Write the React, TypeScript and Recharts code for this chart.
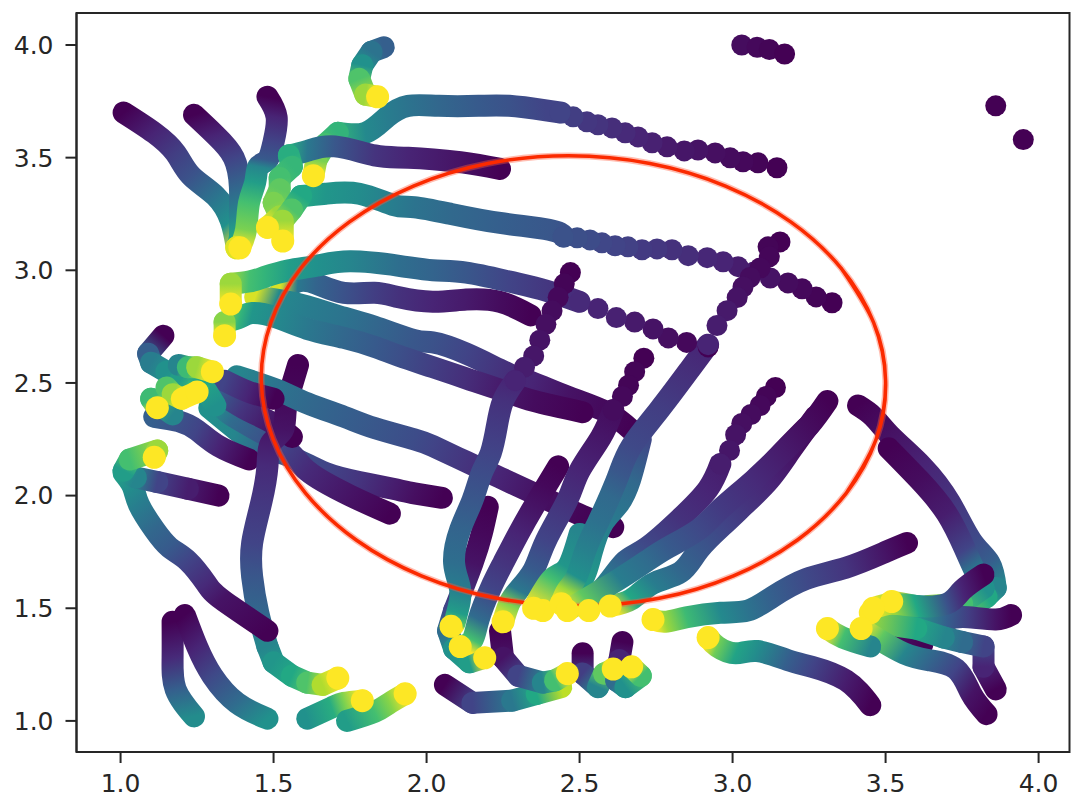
import React from 'react';
import { ComposedChart, Line, XAxis, YAxis, ReferenceArea } from 'recharts';

type Pt = [number, number, number]; // x, y, colour value 0..1

const xTicks = [1, 1.5, 2, 2.5, 3, 3.5, 4];
const yTicks = [1, 1.5, 2, 2.5, 3, 3.5, 4];
const xDomain: [number, number] = [0.856, 4.101];
const yDomain: [number, number] = [0.862, 4.142];

const viridisStops = ['#440154', '#482475', '#414487', '#355f8d', '#2a788e', '#21918c', '#22a884', '#44bf70', '#7ad151', '#bddf26', '#fde725'];

const trackA: Pt[] = [[1.01,3.7,0],[1.11,3.61,.1],[1.18,3.52,.18],[1.23,3.42,.25],[1.31,3.33,.38],[1.36,3.22,.5],[1.38,3.1,1]];
const trackB: Pt[] = [[1.24,3.69,0],[1.31,3.6,.1],[1.37,3.5,.2],[1.39,3.37,.33],[1.39,3.25,.45],[1.39,3.15,.6],[1.38,3.1,.95]];
const trackC: Pt[] = [[1.48,3.77,0],[1.51,3.68,.1],[1.5,3.57,.2],[1.48,3.49,.28],[1.45,3.46,.45],[1.44,3.39,.55],[1.42,3.3,.7],[1.41,3.18,.8],[1.39,3.1,1]];
const trackD: Pt[] = [[2.24,3.45,0],[2.11,3.48,.05],[1.94,3.5,.1],[1.83,3.51,.15],[1.7,3.55,.27],[1.61,3.53,.4],[1.55,3.51,.62]];
const tailD: Pt[] = [[1.55,3.51,.62],[1.56,3.46,.66],[1.52,3.41,.7],[1.52,3.36,.75],[1.5,3.3,.8],[1.52,3.24,.85],[1.48,3.19,1]];
const trackE: Pt[] = [[2.44,3.7,.2],[2.39,3.71,.2],[2.27,3.73,.25],[2.17,3.73,.28],[2.04,3.73,.33],[1.94,3.73,.38],[1.87,3.68,.42],[1.8,3.61,.47],[1.71,3.61,.65]];
const tailE: Pt[] = [[1.71,3.61,.65],[1.67,3.56,.7],[1.64,3.49,.8],[1.63,3.42,1]];
const trackF: Pt[] = [[2.45,3.15,.25],[2.4,3.18,.27],[2.24,3.21,.3],[2.08,3.25,.34],[1.96,3.28,.38],[1.89,3.29,.42],[1.78,3.34,.48],[1.67,3.34,.52],[1.59,3.33,.6]];
const tailF: Pt[] = [[1.59,3.33,.6],[1.56,3.27,.72],[1.53,3.22,.85],[1.53,3.13,1]];
const trackG: Pt[] = [[2.5,2.86,.12],[2.39,2.91,.16],[2.27,2.95,.2],[2.13,2.99,.27],[2.02,3,.32],[1.91,3.02,.36],[1.75,3.04,.45],[1.64,3.02,.5],[1.55,3,.55],[1.47,2.97,.65],[1.42,2.95,.7],[1.36,2.94,.85]];
const tailG: Pt[] = [[1.36,2.94,.85],[1.36,2.85,1]];
const trackH: Pt[] = [[2.34,2.8,0],[2.24,2.86,.03],[2.13,2.87,.07],[2.02,2.86,.1],[1.91,2.88,.14],[1.83,2.9,.18],[1.73,2.9,.25],[1.64,2.94,.32],[1.58,2.95,.4],[1.52,2.9,.94]];
const trackI: Pt[] = [[2.67,2.29,0],[2.59,2.37,.02],[2.46,2.44,.05],[2.35,2.5,.1],[2.27,2.54,.13],[2.13,2.63,.2],[2.02,2.68,.25],[1.96,2.69,.27],[1.83,2.75,.33],[1.73,2.79,.38],[1.61,2.84,.42],[1.51,2.87,.47],[1.44,2.88,.94]];
const trackI2: Pt[] = [[2.51,2.37,0],[2.35,2.42,.03],[2.24,2.47,.07],[2.13,2.52,.13],[2.02,2.57,.18],[1.91,2.62,.24],[1.83,2.66,.28],[1.73,2.7,.33],[1.61,2.74,.4],[1.51,2.79,.47],[1.43,2.81,.52],[1.39,2.79,.65],[1.34,2.77,.82]];
const tailI2: Pt[] = [[1.34,2.77,.82],[1.34,2.71,1]];
const trackJ: Pt[] = [[2.61,1.86,0],[2.51,1.91,.01],[2.43,1.96,.03],[2.35,2.01,.05],[2.24,2.08,.1],[2.13,2.15,.15],[2.02,2.22,.2],[1.96,2.25,.23],[1.83,2.3,.27],[1.73,2.35,.3],[1.61,2.41,.34],[1.51,2.47,.38],[1.38,2.53,.45]];
const trackK: Pt[] = [[2.05,1.99,0],[1.96,2.01,.04],[1.89,2.03,.08],[1.78,2.06,.15],[1.67,2.1,.2],[1.56,2.17,.25],[1.46,2.22,.33],[1.38,2.29,.45],[1.29,2.39,.5]];
const trackL: Pt[] = [[1.88,1.92,0],[1.75,2,.05],[1.61,2.11,.12],[1.53,2.22,.2],[1.37,2.35,.35],[1.32,2.42,.5]];
const trackM: Pt[] = [[1.56,2.26,0],[1.5,2.32,.05],[1.4,2.39,.15],[1.32,2.46,.3]];
const trackN: Pt[] = [[1.5,2.43,0],[1.42,2.46,.1],[1.34,2.51,.2]];
const trackO: Pt[] = [[1.42,2.16,0],[1.32,2.22,.1],[1.25,2.29,.2],[1.19,2.33,.25],[1.11,2.35,.3]];
const trackP: Pt[] = [[1.14,2.71,0],[1.09,2.63,.3],[1.1,2.59,.42],[1.15,2.55,.5],[1.19,2.5,.55],[1.24,2.46,.7]];
const blobA: Pt[] = [[1.17,2.36,.45],[1.1,2.43,.68],[1.12,2.39,1]];
const blobB: Pt[] = [[1.19,2.58,.45],[1.22,2.57,.68],[1.25,2.57,.85],[1.3,2.55,1]];
const blobE: Pt[] = [[1.31,2.4,.5],[1.26,2.51,.6],[1.25,2.47,.7]];
const blobC: Pt[] = [[1.15,2.48,.72],[1.17,2.45,.85],[1.2,2.43,1],[1.25,2.46,1]];
const trackS: Pt[] = [[1.58,2.58,0],[1.56,2.49,.01],[1.54,2.38,.03],[1.53,2.29,.05],[1.49,2.23,.08],[1.48,2.13,.12],[1.46,1.97,.16],[1.43,1.79,.2],[1.43,1.64,.27],[1.45,1.48,.33],[1.48,1.33,.45]];
const tailS: Pt[] = [[1.48,1.33,.45],[1.5,1.26,.52],[1.56,1.2,.6],[1.61,1.17,.72],[1.66,1.16,.88],[1.71,1.19,1]];
const trackR: Pt[] = [[1.01,2.1,.55],[1.04,2.04,.48],[1.06,1.96,.42],[1.11,1.85,.33],[1.16,1.77,.28],[1.22,1.71,.2],[1.28,1.61,.12],[1.33,1.54,.05],[1.48,1.4,0]];
const trackQ: Pt[] = [[1.32,2,0],[1.22,2.03,.08],[1.12,2.06,.2],[1.05,2.08,.45],[1.01,2.11,.55],[1.03,2.16,.7],[1.12,2.2,.85],[1.11,2.17,1]];
const trackT: Pt[] = [[1.17,1.44,0],[1.17,1.28,.12],[1.18,1.14,.3],[1.24,1.02,.48]];
const trackU: Pt[] = [[1.21,1.47,0],[1.25,1.33,.1],[1.3,1.2,.22],[1.38,1.08,.35],[1.48,1.01,.5]];
const trackV: Pt[] = [[1.61,1.01,.5],[1.69,1.06,.62],[1.73,1.08,.8],[1.79,1.09,1]];
const trackW: Pt[] = [[1.74,1,.55],[1.83,1.04,.7],[1.88,1.08,.82],[1.93,1.12,1]];
const trackX: Pt[] = [[1.86,3.99,.3],[1.82,3.97,.38],[1.79,3.91,.5],[1.78,3.85,.72],[1.8,3.78,.85],[1.84,3.77,1]];
const trackY: Pt[] = [[2.29,2.51,.1],[2.25,2.42,.14],[2.23,2.31,.17],[2.21,2.19,.2],[2.18,2.1,.23],[2.15,1.98,.27],[2.11,1.85,.32],[2.09,1.7,.36],[2.11,1.58,.42],[2.1,1.48,.55],[2.09,1.43,.75],[2.08,1.42,1]];
const trackZ: Pt[] = [[2.2,1.95,0],[2.18,1.83,.02],[2.15,1.7,.05],[2.09,1.49,.2]];
const tailZ: Pt[] = [[2.09,1.49,.2],[2.07,1.4,.35],[2.09,1.32,.5],[2.14,1.26,.55],[2.19,1.28,1]];
const trackAA: Pt[] = [[2.43,2.13,0],[2.39,2.04,.02],[2.35,1.95,.05],[2.3,1.83,.1],[2.25,1.7,.15],[2.21,1.59,.2],[2.17,1.45,.35],[2.15,1.36,.7],[2.11,1.33,1]];
const trackAC: Pt[] = [[2.24,1.4,0],[2.25,1.28,.05],[2.3,1.2,.2],[2.38,1.17,.45],[2.42,1.18,.7],[2.46,1.21,1]];
const trackAB: Pt[] = [[2.61,2.38,.03],[2.57,2.26,.06],[2.5,2.11,.1],[2.46,1.98,.14],[2.39,1.8,.2],[2.35,1.67,.28],[2.3,1.58,.4],[2.27,1.52,.8],[2.25,1.44,1]];
const trackAD: Pt[] = [[2.06,1.16,0],[2.15,1.08,.2],[2.28,1.09,.4],[2.36,1.12,.6],[2.44,1.15,.9]];
const trackAE: Pt[] = [[2.51,1.3,0],[2.51,1.21,.18],[2.56,1.15,.45],[2.58,1.21,.75],[2.61,1.23,1]];
const trackAF: Pt[] = [[2.64,1.35,0],[2.63,1.27,.1],[2.62,1.18,.35],[2.65,1.15,.5],[2.7,1.2,.7],[2.67,1.24,1]];
const trackAG: Pt[] = [[2.92,2.67,.1],[2.86,2.56,.13],[2.76,2.38,.18],[2.67,2.22,.22],[2.63,2.1,.27],[2.6,2,.34],[2.56,1.88,.37],[2.52,1.76,.43],[2.49,1.64,.5],[2.46,1.58,.85],[2.44,1.52,1]];
const trackAH: Pt[] = [[2.7,2.25,.22],[2.665,2.07,.34],[2.626,1.96,.38],[2.577,1.88,.42],[2.54,1.75,.48],[2.5,1.61,.55],[2.43,1.58,.8],[2.38,1.49,1]];
const trackAH2: Pt[] = [[2.5,1.83,.45],[2.46,1.68,.52],[2.41,1.63,.7],[2.35,1.5,1]];
const trackAJ: Pt[] = [[2.96,2.14,.08],[2.92,2.03,.1],[2.83,1.9,.14],[2.72,1.77,.22],[2.65,1.71,.3],[2.59,1.61,.42],[2.53,1.52,.8],[2.53,1.49,1]];
const trackAK: Pt[] = [[3.31,2.42,0],[3.25,2.31,.03],[3.17,2.2,.07],[3.07,2.07,.12],[2.96,1.94,.17],[2.89,1.85,.22],[2.79,1.77,.28],[2.72,1.71,.35],[2.63,1.63,.42],[2.52,1.54,.75],[2.46,1.49,1]];
const trackAL: Pt[] = [[3.27,2.35,0],[3.19,2.2,.05],[3.12,2.07,.1],[3.04,1.96,.15],[2.97,1.87,.2],[2.89,1.76,.27],[2.83,1.66,.33],[2.74,1.61,.42],[2.67,1.54,.6],[2.6,1.51,1]];
const trackAL2: Pt[] = [[3.24,2.3,0],[3.14,2.16,.07],[3.06,2.03,.1],[3.01,1.94,.12],[2.93,1.85,.2]];
const trackAM: Pt[] = [[3.57,1.79,0],[3.5,1.75,.05],[3.37,1.68,.15],[3.24,1.63,.22],[3.13,1.55,.3],[3.05,1.49,.38],[2.96,1.48,.47],[2.85,1.46,.68],[2.78,1.44,.85],[2.74,1.45,1]];
const trackAN: Pt[] = [[3.45,1.07,0],[3.37,1.18,.08],[3.26,1.24,.2],[3.18,1.27,.3],[3.08,1.31,.48],[3.01,1.3,.58],[2.95,1.33,.78],[2.92,1.37,1]];
const trackAO: Pt[] = [[3.41,2.4,0],[3.46,2.35,.02],[3.52,2.26,.05],[3.62,2.13,.1],[3.71,1.97,.15],[3.78,1.8,.22],[3.84,1.7,.3],[3.86,1.59,.45]];
const tailAO: Pt[] = [[3.86,1.59,.45],[3.83,1.55,.6],[3.75,1.48,.8],[3.69,1.44,.9]];
const trackAP: Pt[] = [[3.51,2.21,0],[3.61,2.07,.03],[3.7,1.92,.08],[3.76,1.76,.2],[3.79,1.67,.4],[3.82,1.59,.5]];
const tailAP: Pt[] = [[3.82,1.59,.5],[3.75,1.52,.7],[3.64,1.51,.85]];
const trackAQ: Pt[] = [[3.6,1.51,.6],[3.52,1.53,1]];
const trackAR: Pt[] = [[3.91,1.47,0],[3.86,1.45,.05],[3.77,1.46,.18],[3.7,1.45,.3],[3.6,1.42,.55],[3.48,1.46,.85],[3.45,1.48,1]];
const trackAS: Pt[] = [[3.86,1.14,0],[3.82,1.24,.1],[3.82,1.33,.2],[3.75,1.35,.35],[3.69,1.37,.45],[3.6,1.41,.6],[3.45,1.44,.85]];
const trackAU: Pt[] = [[3.62,1.34,0],[3.56,1.35,.03]];
const trackAT: Pt[] = [[3.83,1.03,0],[3.78,1.12,.05],[3.73,1.23,.2],[3.64,1.27,.33],[3.56,1.3,.45],[3.48,1.36,.75],[3.42,1.41,1]];
const trackAU2: Pt[] = [[3.45,1.33,.45],[3.36,1.37,.7],[3.31,1.41,1]];
const trackAV: Pt[] = [[3.82,1.65,0],[3.75,1.58,.1],[3.7,1.52,.25],[3.6,1.51,.6],[3.52,1.52,.85],[3.46,1.5,1]];

// tails where the single markers can still be told apart
const beadsE: Pt[] = [[3.145,3.455,0],[3.083,3.477,.01],[3.034,3.482,.02],[2.992,3.499,.03],[2.943,3.521,.04],[2.887,3.534,.05],[2.842,3.53,.06],[2.786,3.548,.07],[2.737,3.566,.09],[2.691,3.592,.1],[2.649,3.61,.12],[2.606,3.632,.13],[2.56,3.646,.15],[2.524,3.659,.16],[2.479,3.681,.18],[2.436,3.699,.2]];
const beadsF: Pt[] = [[3.325,2.856,0],[3.273,2.882,.01],[3.227,2.918,.02],[3.181,2.944,.03],[3.123,2.966,.05],[3.07,2.993,.07],[3.018,3.016,.08],[2.969,3.038,.1],[2.917,3.056,.11],[2.855,3.065,.13],[2.802,3.091,.14],[2.753,3.095,.16],[2.704,3.091,.17],[2.658,3.104,.19],[2.616,3.109,.2],[2.573,3.122,.21],[2.534,3.135,.23],[2.492,3.144,.24],[2.446,3.148,.25]];
const beadsG: Pt[] = [[2.92,2.66,0],[2.85,2.68,.02],[2.79,2.7,.04],[2.74,2.74,.05],[2.68,2.77,.07],[2.62,2.79,.09],[2.56,2.83,.1],[2.5,2.86,.12]];
const beadsY: Pt[] = [[2.47,2.99,0],[2.45,2.94,.01],[2.43,2.88,.02],[2.41,2.82,.03],[2.39,2.76,.04],[2.37,2.69,.05],[2.35,2.62,.06],[2.32,2.57,.08],[2.29,2.51,.1]];
const beadsAB: Pt[] = [[2.71,2.61,0],[2.68,2.55,.01],[2.66,2.49,.01],[2.64,2.44,.02],[2.61,2.38,.03]];
const beadsAG: Pt[] = [[3.155,3.126,0],[3.116,3.104,.01],[3.12,3.06,.015],[3.09,3.01,.02],[3.057,2.968,.03],[3.034,2.926,.04],[3.015,2.879,.05],[2.982,2.821,.07],[2.949,2.755,.08],[2.92,2.67,.1]];
const beadsAJ: Pt[] = [[3.14,2.48,0],[3.11,2.44,.01],[3.09,2.4,.02],[3.06,2.36,.03],[3.03,2.32,.04],[3.01,2.27,.05],[2.99,2.2,.06],[2.96,2.14,.08]];
const beadsTop: Pt[] = [[3.03,4,.03],[3.08,3.99,.02],[3.12,3.98,.01],[3.17,3.96,0]];
const beadsLone: Pt[] = [[3.86,3.73,0],[3.95,3.58,0]];

const ringX = [3.371,3.469,3.5,3.461,3.355,3.19,2.977,2.73,2.464,2.2,1.957,1.748,1.589,1.491,1.46,1.499,1.605,1.77,1.983,2.23,2.496,2.76,3.003,3.212,3.371,3.469,3.5,3.461,3.355];
const ringY = [2.01,2.25,2.51,2.768,3.009,3.215,3.374,3.474,3.508,3.474,3.374,3.215,3.009,2.768,2.509,2.25,2.01,1.803,1.644,1.544,1.51,1.544,1.644,1.803,2.01,2.25,2.51,2.768,3.009];

const strokes: Pt[][] = [
  trackX, trackA, trackB, trackC, trackE, tailE, trackD, tailD, trackF, tailF, trackH, trackI, trackG, tailG, trackI2, tailI2,
  trackK, trackL, trackM, trackO, trackS, tailS, trackJ, trackN, trackP, blobA, blobE, blobB, blobC,
  trackR, trackQ, trackT, trackU, trackV, trackW,
  trackAD, trackAC, trackAE, trackAF, trackZ, tailZ, trackY, trackAA, trackAB,
  trackAH, trackAH2, trackAG, trackAJ, trackAL2, trackAL, trackAK, trackAM, trackAN,
  trackAO, tailAO, trackAP, tailAP, trackAU, trackAQ, trackAR, trackAS, trackAT, trackAU2, trackAV,
];
// these turn back on themselves, so they are coloured piece by piece
const bent = new Set<Pt[]>([tailD, tailE, tailF, tailG, tailI2, tailS, tailZ, tailAO, tailAP, trackP, trackQ, trackX, trackAC, trackAD, trackAE, trackAF, trackAS, blobA, blobB, blobC, blobE]);
const beads: Pt[][] = [beadsE, beadsF, beadsG, beadsY, beadsAB, beadsAG, beadsAJ, beadsTop, beadsLone];

const WIDTH = 1071;
const HEIGHT = 801;
const LEFT = 76.5;
const RIGHT = 1.5;
const TOP = 13;
const BOTTOM = 49;

const toPxX = (x: number) => LEFT + ((x - xDomain[0]) / (xDomain[1] - xDomain[0])) * (WIDTH - LEFT - RIGHT);
const toPxY = (y: number) => TOP + ((yDomain[1] - y) / (yDomain[1] - yDomain[0])) * (HEIGHT - TOP - BOTTOM);

const hex = (s: string) => [1, 3, 5].map((i) => parseInt(s.slice(i, i + 2), 16));
const viridis = (c: number) => {
  const p = Math.min(Math.max(c, 0), 1) * (viridisStops.length - 1);
  const i = Math.min(Math.floor(p), viridisStops.length - 2);
  const a = hex(viridisStops[i]);
  const b = hex(viridisStops[i + 1]);
  const m = a.map((v, k) => Math.round(v + (b[k] - v) * (p - i)));
  return `rgb(${m[0]},${m[1]},${m[2]})`;
};

// one gradient for a run of points, laid along the line from its first to its last point
const makeRun = (id: string, pts: Pt[], type: 'natural' | 'linear') => {
  const x1 = toPxX(pts[0][0]);
  const y1 = toPxY(pts[0][1]);
  const x2 = toPxX(pts[pts.length - 1][0]);
  const y2 = toPxY(pts[pts.length - 1][1]);
  const len = (x2 - x1) ** 2 + (y2 - y1) ** 2 || 1;
  const stops = pts
    .map((p) => ({
      offset: Math.min(Math.max(((toPxX(p[0]) - x1) * (x2 - x1) + (toPxY(p[1]) - y1) * (y2 - y1)) / len, 0), 1),
      color: viridis(p[2]),
    }))
    .sort((a, b) => a.offset - b.offset);
  return { id, pts, type, x1, y1, x2, y2, stops };
};

const runs = strokes.flatMap((pts, t) =>
  bent.has(pts)
    ? pts.slice(1).map((p, i) => makeRun(`run-${t}-${i}`, [pts[i], p], 'linear'))
    : [makeRun(`run-${t}`, pts, 'natural')]
);
const heads = strokes
  .filter((pts) => pts[pts.length - 1][2] >= 0.95)
  .map((pts) => {
    const p = pts[pts.length - 1];
    return { x: p[0], y: p[1], c: p[2] };
  });
const ring = ringX.map((x, i) => ({ x, y: ringY[i] }));

const BeadDot = (props: any) => (
  <circle key={props.index} cx={props.cx} cy={props.cy} r={10.5} fill={viridis(props.payload.c)} stroke="none" />
);
const HeadDot = (props: any) => (
  <circle key={props.index} cx={props.cx} cy={props.cy} r={11.5} fill={viridis(props.payload.c)} stroke="none" />
);

export default function App() {
  const tick = { fill: '#262626', fontSize: 25, fontFamily: '"DejaVu Sans"' };
  return (
    <div style={{ position: 'absolute', left: 0, top: 0, background: '#fff' }}>
      <ComposedChart width={WIDTH} height={HEIGHT} margin={{ top: TOP, right: RIGHT, left: 0, bottom: 0 }}>
        <defs>
          {runs.map((r) => (
            <linearGradient key={r.id} id={r.id} gradientUnits="userSpaceOnUse" x1={r.x1} y1={r.y1} x2={r.x2} y2={r.y2}>
              {r.stops.map((s, i) => (
                <stop key={i} offset={s.offset} stopColor={s.color} />
              ))}
            </linearGradient>
          ))}
        </defs>
        <XAxis
          type="number"
          dataKey="x"
          domain={xDomain}
          ticks={xTicks}
          height={BOTTOM}
          interval={0}
          tickFormatter={(v: number) => v.toFixed(1)}
          tick={tick}
          tickSize={11}
          tickMargin={11}
          stroke="#262626"
          strokeWidth={2}
        />
        <YAxis
          type="number"
          dataKey="y"
          domain={yDomain}
          ticks={yTicks}
          width={LEFT}
          interval={0}
          tickFormatter={(v: number) => v.toFixed(1)}
          tick={tick}
          tickSize={11}
          tickMargin={12}
          stroke="#262626"
          strokeWidth={2}
        />
        <ReferenceArea
          x1={xDomain[0]}
          x2={xDomain[1]}
          y1={yDomain[0]}
          y2={yDomain[1]}
          fill="none"
          stroke="#262626"
          strokeWidth={2}
        />
        {runs.map((r) => (
          <Line
            key={r.id}
            data={r.pts.map((p) => ({ x: p[0], y: p[1] }))}
            dataKey="y"
            type={r.type}
            stroke={`url(#${r.id})`}
            strokeWidth={22}
            strokeLinecap="round"
            strokeLinejoin="round"
            dot={false}
            activeDot={false}
            legendType="none"
            isAnimationActive={false}
          />
        ))}
        {beads.map((pts, i) => (
          <Line
            key={`beads-${i}`}
            data={pts.map((p) => ({ x: p[0], y: p[1], c: p[2] }))}
            dataKey="y"
            type="linear"
            stroke="none"
            dot={BeadDot}
            activeDot={false}
            legendType="none"
            isAnimationActive={false}
          />
        ))}
        <Line
          data={heads}
          dataKey="y"
          type="linear"
          stroke="none"
          dot={HeadDot}
          activeDot={false}
          legendType="none"
          isAnimationActive={false}
        />
        <Line
          data={ring}
          dataKey="y"
          type="natural"
          stroke="#ff5a3c"
          strokeOpacity={0.4}
          strokeWidth={6.5}
          dot={false}
          activeDot={false}
          legendType="none"
          isAnimationActive={false}
        />
        <Line
          data={ring}
          dataKey="y"
          type="natural"
          stroke="#fb2a00"
          strokeWidth={3.5}
          dot={false}
          activeDot={false}
          legendType="none"
          isAnimationActive={false}
        />
      </ComposedChart>
    </div>
  );
}
